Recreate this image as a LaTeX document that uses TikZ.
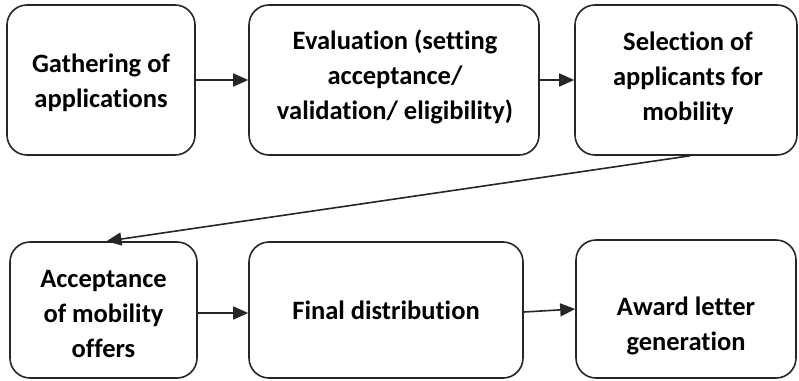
\documentclass[tikz,border=0pt]{standalone}
\usepackage{fontspec}
\setmainfont[Ligatures=NoCommon]{Carlito}
\usetikzlibrary{arrows.meta}
\tikzset{
  box/.style={draw=black!85, line width=1.6pt, rounded corners=20pt, inner sep=0pt},
  lbl/.style={align=center, font=\fontsize{26.5pt}{35pt}\selectfont\bfseries, inner sep=0pt},
  conn/.style={line width=1.6pt, draw=black!85, -{Triangle[length=15pt,width=13pt]}}
}
\begin{document}
\begin{tikzpicture}[x=1pt,y=-1pt]
\useasboundingbox (0,0) rectangle (799,380);
\node[box, minimum width=188pt, minimum height=150pt] (b1) at (101,80) {};
\node[box, minimum width=290pt, minimum height=150pt] (b2) at (394,80) {};
\node[box, minimum width=222pt, minimum height=150pt] (b3) at (686,80) {};
\node[box, minimum width=187pt, minimum height=136pt] (b4) at (103.5,310) {};
\node[box, minimum width=274pt, minimum height=136pt] (b5) at (386,310) {};
\node[box, minimum width=220pt, minimum height=138pt] (b6) at (686,309) {};
\node[lbl] (t1) at (101,83) {Gathering of\\applications};
\node[lbl] (t2) at (395,77) {Evaluation (setting\\acceptance/\\validation/ eligibility)};
\node[lbl] (t3) at (688,78) {Selection of\\applicants for\\mobility};
\node[lbl] (t4) at (103.5,314) {Acceptance\\of mobility\\offers};
\node[lbl] (t5) at (386,310) {Final distribution};
\node[lbl] (t6) at (686,326) {Award letter\\generation};
\draw[conn] (b1.east) -- (b2.west);
\draw[conn] (b2.east) -- (b3.west);
\draw[conn] ([xshift=4pt]b3.south) -- ([xshift=3pt]b4.north);
\draw[conn] ([yshift=-3pt]b4.east) -- ([yshift=-3pt]b5.west);
\draw[conn] ([yshift=-2pt]b5.east) -- (b6.west);
\end{tikzpicture}
\end{document}
